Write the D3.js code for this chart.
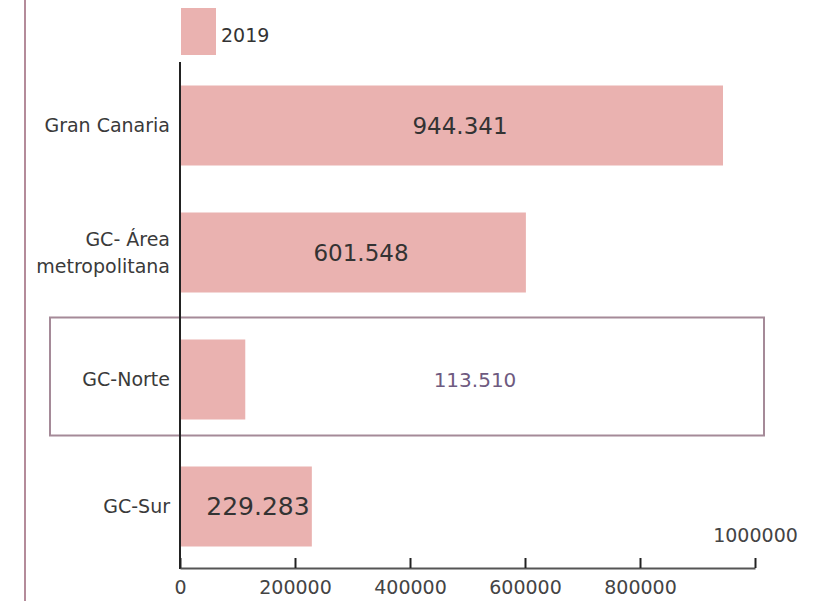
<!DOCTYPE html>
<html>
<head>
<meta charset="utf-8">
<script src="https://cdn.jsdelivr.net/npm/d3@7"></script>
<style>
  body { margin: 0; background: #fff; }
  svg { font-family: "DejaVu Sans", sans-serif; }
</style>
</head>
<body>
<svg id="chart"></svg>
<script>
const categories = ["Gran Canaria", "GC- Área metropolitana", "GC-Norte", "GC-Sur"];
const categoryLines = [["Gran Canaria"], ["GC- Área", "metropolitana"], ["GC-Norte"], ["GC-Sur"]];
const values2019 = [944341, 601548, 113510, 229283];
const valueLabels = ["944.341", "601.548", "113.510", "229.283"];
const tickValues = [0, 200000, 400000, 600000, 800000, 1000000];
const seriesName = "2019";
const highlighted = "GC-Norte";

const width = 829;
const height = 601;
const barColor = "#eab2b0";

const svg = d3.select("#chart")
  .attr("width", width)
  .attr("height", height);

const xScale = d3.scaleLinear()
  .domain([0, 1000000])
  .range([180, 755]);

const yScale = d3.scaleBand()
  .domain(categories)
  .range([62, 570])
  .paddingInner(0.37)
  .paddingOuter(0.185);

// left decorative rule
svg.append("line")
  .attr("x1", 25).attr("x2", 25)
  .attr("y1", 0).attr("y2", height)
  .attr("stroke", "#b48b9a")
  .attr("stroke-width", 2);

// legend
svg.append("rect")
  .attr("x", 181).attr("y", 8)
  .attr("width", 35).attr("height", 47)
  .attr("fill", barColor);
svg.append("text")
  .attr("x", 221).attr("y", 42)
  .attr("font-size", 19)
  .attr("fill", "#333")
  .text(seriesName);

// bars
svg.selectAll("rect.bar")
  .data(categories)
  .enter()
  .append("rect")
  .attr("class", "bar")
  .attr("x", xScale(0))
  .attr("y", d => yScale(d))
  .attr("width", (d, i) => xScale(values2019[i]) - xScale(0))
  .attr("height", yScale.bandwidth())
  .attr("fill", barColor);

// highlight box
svg.append("rect")
  .attr("x", 50)
  .attr("y", yScale(highlighted) - 22)
  .attr("width", xScale(1000000) + 9 - 50)
  .attr("height", yScale.bandwidth() + 38)
  .attr("fill", "none")
  .attr("stroke", "#a58a98")
  .attr("stroke-width", 2);

// category labels
categories.forEach((c, i) => {
  const lines = categoryLines[i];
  const cy = yScale(c) + yScale.bandwidth() / 2;
  const lh = 27;
  const t = svg.append("text")
    .attr("text-anchor", "end")
    .attr("font-size", 19)
    .attr("fill", "#3a3a3a");
  lines.forEach((l, j) => {
    t.append("tspan")
      .attr("x", 170)
      .attr("y", cy + (j - (lines.length - 1) / 2) * lh)
      .attr("dy", "0.35em")
      .text(l);
  });
});

// value labels
const labelX = [460, 361, 475, 258];
const labelSize = [23, 23, 20, 25];
const labelColor = ["#333", "#333", "#6e5a80", "#333"];
svg.selectAll("text.value")
  .data(categories)
  .enter()
  .append("text")
  .attr("class", "value")
  .attr("x", (d, i) => labelX[i])
  .attr("y", d => yScale(d) + yScale.bandwidth() / 2)
  .attr("dy", "0.35em")
  .attr("text-anchor", "middle")
  .attr("font-size", (d, i) => labelSize[i])
  .attr("fill", (d, i) => labelColor[i])
  .text((d, i) => valueLabels[i]);

// y axis line
svg.append("line")
  .attr("x1", xScale(0)).attr("x2", xScale(0))
  .attr("y1", 62).attr("y2", 569)
  .attr("stroke", "#222")
  .attr("stroke-width", 2);

// x axis
const xAxis = d3.axisBottom(xScale)
  .tickValues(tickValues)
  .tickFormat(d3.format("d"))
  .tickSizeInner(-10)
  .tickSizeOuter(0)
  .tickPadding(13);

const gx = svg.append("g")
  .attr("transform", "translate(0, 568)")
  .call(xAxis);

gx.select(".domain").attr("stroke", "#555").attr("stroke-width", 2);
gx.selectAll(".tick line").attr("stroke", "#222").attr("stroke-width", 2);
gx.selectAll(".tick text")
  .attr("font-size", 19)
  .attr("font-family", "DejaVu Sans, sans-serif")
  .attr("fill", "#444");
gx.selectAll(".tick text")
  .filter(d => d === 1000000)
  .attr("y", -40);
</script>
</body>
</html>
